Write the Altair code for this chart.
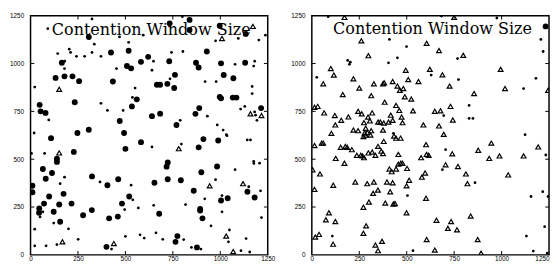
import altair as alt
import pandas as pd

AXIS_VALUES = [0, 250, 500, 750, 1000, 1250]
INNER_TICKS = [250, 500, 750, 1000]
TICK_LEN = 20
TITLE_TEXT = "Contention Window Size"

# ---------------- left panel ----------------
left_big = [
    (307, 1139), (424, 1058), (517, 1067), (620, 1035), (582, 1009), (165, 1004), (508, 987), (530, 975),
    (132, 925), (179, 933), (221, 933), (256, 908), (434, 906), (560, 813), (233, 798), (534, 776),
    (48, 784), (53, 750), (79, 742), (470, 700), (247, 637), (307, 654), (493, 637),
    (838, 1228), (838, 1175), (733, 1210), (997, 1198), (1134, 1155),
    (929, 1063), (731, 1012), (872, 1004), (886, 979), (1004, 1001), (1131, 1004), (761, 941), (666, 889),
    (683, 889), (721, 894), (757, 872), (1018, 940), (1069, 923), (997, 826), (1004, 818), (1066, 822),
    (1085, 822), (889, 767), (869, 737), (1215, 767), (640, 725), (683, 738), (769, 679),
    (108, 610), (582, 589), (500, 554), (139, 503), (139, 486), (228, 538), (65, 449), (113, 428), (80, 398),
    (324, 410), (405, 364), (462, 395), (10, 361), (10, 327), (98, 305), (174, 319), (71, 268), (151, 263),
    (216, 268), (46, 242), (45, 220), (122, 225), (277, 207), (323, 234), (482, 268), (520, 305), (414, 191),
    (460, 200), (156, 173), (400, 42),
    (911, 605), (989, 598), (886, 562), (723, 483), (717, 461), (983, 462), (900, 432), (653, 377), (723, 395),
    (792, 390), (1143, 330), (860, 335), (1004, 284), (1039, 296), (1181, 300), (894, 240), (894, 232),
    (678, 215), (906, 191), (774, 98), (764, 68), (877, 39),
]
left_small = [
    (91, 1182), (324, 1233), (469, 1139), (517, 1111), (594, 1148), (336, 1101), (143, 1052), (204, 1075),
    (211, 1058), (242, 1038), (285, 1038), (324, 1058), (371, 1038), (180, 1012), (179, 974), (453, 974),
    (22, 877), (551, 872), (537, 823), (371, 792), (405, 755), (488, 755), (96, 705), (19, 637), (633, 726),
    (800, 1245), (975, 1119), (1238, 1148), (1203, 1123), (1095, 1131), (803, 1063), (743, 1058), (648, 1012),
    (1078, 996), (1181, 1012), (1176, 987), (640, 965), (735, 920), (920, 906), (978, 906), (1168, 880),
    (1168, 843), (932, 725), (1107, 762), (1129, 776), (1181, 747), (1186, 730), (1193, 703), (789, 703),
    (984, 679), (1015, 652), (1032, 628),
    (5, 530), (74, 530), (179, 406), (156, 372), (366, 381), (530, 364), (65, 225), (50, 198), (539, 288),
    (496, 237), (568, 245), (122, 166), (22, 134), (200, 136), (251, 81), (500, 97), (577, 105), (599, 88),
    (22, 47), (82, 47), (139, 54), (427, 30),
    (1035, 623), (1142, 601), (1159, 601), (640, 564), (795, 579), (1078, 445), (1176, 488), (1177, 478),
    (1207, 479), (975, 393), (1150, 356), (1212, 335), (1009, 310), (918, 293), (649, 259), (817, 263),
    (1009, 225), (1217, 195), (951, 152), (661, 115), (697, 81), (807, 80), (1048, 130), (1043, 68),
    (1136, 85), (848, 39), (898, 30), (1109, 22), (1155, 15),
]
left_tri = [
    (151, 865), (1009, 1131), (1172, 1194), (1159, 737), (1217, 728), (151, 533), (168, 68), (439, 59),
    (781, 555), (944, 361), (1120, 372), (1031, 98), (1068, 17),
]

# ---------------- right panel ----------------
right_big = [(1232, 1194)]
right_small = [
    (86, 1245), (683, 1248), (975, 1238), (409, 1126), (499, 1089), (189, 1016), (203, 1007), (198, 996),
    (404, 1004), (451, 1030), (629, 940), (26, 928), (1207, 1126), (1219, 1063), (768, 1026), (773, 916),
    (1181, 923), (1116, 869), (695, 728), (829, 781), (829, 713), (849, 713), (1124, 628), (430, 635),
    (108, 98), (504, 310), (533, 22), (705, 550), (1233, 522), (688, 445), (860, 377), (1155, 305),
    (1217, 330), (1245, 305), (1227, 147), (1131, 98), (1167, 20), (1241, 9),
]
right_tri = [
    (172, 1241), (750, 1241), (261, 1119), (605, 1106), (298, 1041), (495, 965), (622, 970), (100, 974),
    (116, 940), (60, 894), (219, 920), (327, 894), (375, 894), (381, 899), (508, 916), (562, 906), (426, 906),
    (250, 872), (451, 882), (464, 860), (482, 869), (163, 838), (313, 832), (490, 826), (524, 814), (384, 798),
    (444, 781), (461, 755), (533, 753), (14, 771), (31, 776), (65, 742), (121, 728), (193, 721), (155, 703),
    (244, 750), (263, 737), (318, 742), (296, 720), (306, 700), (275, 691), (349, 694), (361, 694), (379, 689),
    (404, 694), (426, 703), (416, 730), (473, 720), (478, 691), (124, 679), (219, 652), (244, 649), (284, 662),
    (292, 640), (278, 637), (313, 649), (375, 652), (588, 679), (103, 635),
    (670, 1068), (798, 1043), (688, 941), (995, 970), (726, 882), (1018, 869), (1245, 860), (855, 843),
    (648, 750), (678, 753), (731, 776), (743, 705), (670, 674), (695, 630),
    (272, 618), (284, 626), (309, 626), (433, 621), (444, 610), (468, 610), (379, 593), (602, 576), (14, 571),
    (52, 584), (60, 584), (152, 562), (177, 567), (186, 562), (211, 550), (349, 567), (366, 542), (375, 530),
    (298, 533), (318, 537), (335, 520), (237, 520), (258, 520), (267, 517), (275, 508), (456, 525), (576, 508),
    (605, 525), (616, 520), (126, 504), (172, 479), (4, 445), (43, 423), (456, 474), (469, 479), (478, 479),
    (409, 449), (421, 435), (444, 449), (502, 452), (597, 428), (580, 406), (513, 390), (499, 361), (229, 381),
    (292, 372), (327, 381), (396, 381), (426, 377), (348, 339), (323, 322), (413, 330), (14, 342), (113, 364),
    (602, 296), (301, 276), (272, 249), (387, 271), (430, 266), (438, 268), (499, 220), (90, 220), (74, 183),
    (124, 174), (286, 152), (18, 93), (38, 107), (272, 113), (112, 56), (370, 71), (335, 51), (349, 22),
    (605, 80),
    (946, 584), (877, 547), (1193, 564), (740, 528), (935, 504), (989, 517), (1116, 517), (705, 471),
    (770, 462), (812, 423), (820, 372), (1035, 418), (657, 181), (734, 174), (837, 203), (717, 139),
    (765, 131), (874, 80), (648, 25), (892, 9),
]

# title annotation position (data units)
title_pos_left = (636, 1147)
title_pos_right = (636, 1156)


def to_df(pairs):
    return pd.DataFrame(pairs, columns=["x", "y"])


ticks_rows = []
for v in INNER_TICKS:
    ticks_rows.append({"x": v, "x2": v, "y": 0, "y2": TICK_LEN})
    ticks_rows.append({"x": v, "x2": v, "y": 1250, "y2": 1250 - TICK_LEN})
    ticks_rows.append({"x": 0, "x2": TICK_LEN, "y": v, "y2": v})
    ticks_rows.append({"x": 1250, "x2": 1250 - TICK_LEN, "y": v, "y2": v})
ticks_df = pd.DataFrame(ticks_rows)

xscale = alt.Scale(domain=[0, 1250], nice=False, zero=False)
yscale = alt.Scale(domain=[0, 1250], nice=False, zero=False)
yaxis = alt.Axis(values=AXIS_VALUES, title=None, labelPadding=7, format="d")


def panel(big, small, tri, title_pos, flush_last):
    if flush_last:
        xaxis = alt.Axis(
            values=AXIS_VALUES, title=None, labelPadding=1, format="d",
            labelAlign={"condition": {"test": "datum.value >= 1250", "value": "right"}, "value": "center"},
        )
    else:
        xaxis = alt.Axis(values=AXIS_VALUES, title=None, labelPadding=1, format="d")
    base_x = alt.X("x:Q", scale=xscale, axis=xaxis)
    base_y = alt.Y("y:Q", scale=yscale, axis=yaxis)
    big_l = alt.Chart(to_df(big)).mark_point(
        shape="circle", filled=True, color="black", size=36, opacity=1, clip=True
    ).encode(x=base_x, y=base_y)
    small_l = alt.Chart(to_df(small)).mark_point(
        shape="circle", filled=True, color="black", size=8, opacity=1, clip=True
    ).encode(x=base_x, y=base_y)
    tri_l = alt.Chart(to_df(tri)).mark_point(
        shape="triangle-up", filled=False, color="black", size=24, strokeWidth=1.2, opacity=1, clip=True
    ).encode(x=base_x, y=base_y)
    tick_l = alt.Chart(ticks_df).mark_rule(color="black", strokeWidth=1, clip=True).encode(
        x=base_x, x2="x2:Q", y=base_y, y2="y2:Q"
    )
    title_df = pd.DataFrame([{"x": title_pos[0], "y": title_pos[1], "t": TITLE_TEXT}])
    title_l = alt.Chart(title_df).mark_text(
        font="DejaVu Serif", fontSize=16.3, color="black", align="center", baseline="alphabetic"
    ).encode(x=base_x, y=base_y, text="t:N")
    return alt.layer(tick_l, small_l, tri_l, big_l, title_l).properties(width=242, height=244)


left = panel(left_big, left_small, left_tri, title_pos_left, False)
right = panel(right_big, right_small, right_tri, title_pos_right, True)

chart = alt.hconcat(left, right, spacing=14).properties(
    padding={"left": 0, "top": 1.25, "right": 0, "bottom": 0}
).configure_view(
    stroke="black", strokeWidth=1.5
).configure_axis(
    grid=False, ticks=False, tickSize=0, domain=False,
    labelFont="Liberation Sans", labelFontSize=6.5, labelColor="black",
    labelFlush=False, labelOverlap=False
).configure_concat(spacing=14)

chart.save("out.html", embed_options={"renderer": "svg", "actions": False})
